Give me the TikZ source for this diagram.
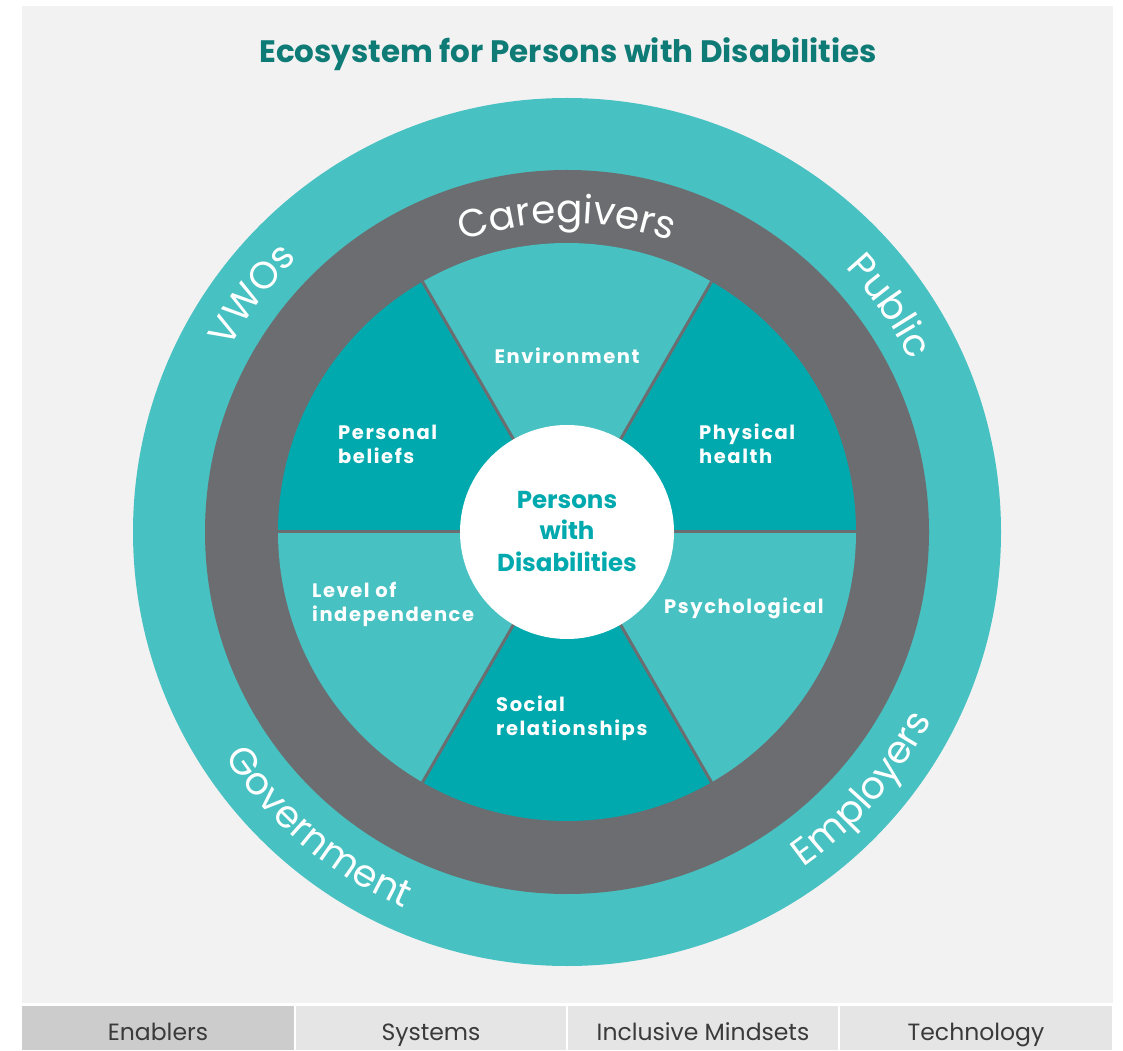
\documentclass[tikz,border=0pt]{standalone}
\usepackage{fontspec}
\setmainfont{Poppins}
\newfontfamily\labfont[LetterSpace=8]{Poppins}
\usetikzlibrary{decorations.text}
\definecolor{bgc}{HTML}{F2F2F2}
\definecolor{lteal}{HTML}{47C1C1}
\definecolor{dteal}{HTML}{00A9AD}
\definecolor{ringgray}{HTML}{6C6D70}
\definecolor{titlec}{HTML}{0E7B76}
\definecolor{cellA}{HTML}{CCCCCC}
\definecolor{cellB}{HTML}{E5E5E5}
\definecolor{celltext}{HTML}{3A3A3A}
\tikzset{
  seclabel/.style={text=white, font=\labfont\bfseries\fontsize{19.5}{24}\selectfont, align=left, inner sep=0pt},
  celltxt/.style={inner sep=0pt, text=celltext, font=\fontsize{23.5}{26}\selectfont, anchor=base},
  ringtext/.style={decorate, decoration={text along path, text align=center, text color=white, text={#1}}}
}
\begin{document}
\begin{tikzpicture}[x=1pt,y=1pt]
\useasboundingbox (0,0) rectangle (1123,1050);
\fill[white] (0,0) rectangle (1123,1050);
\fill[bgc] (22,47) rectangle (1113,1044);
\coordinate (C) at (567,518);
% rings
\fill[lteal] (C) circle[radius=434];
\fill[ringgray] (C) circle[radius=362];
% sectors
\foreach \a/\col in {0/dteal,60/lteal,120/dteal,180/lteal,240/dteal,300/lteal}{
  \fill[\col] (C) -- ++(\a:289) arc[start angle=\a, end angle=\a+60, radius=289] -- cycle;
}
\foreach \a in {0,60,...,300}{
  \draw[ringgray, line width=3pt] (C) -- ++(\a:289);
}
\fill[white] (C) circle[radius=107];
% title
\node[text=titlec, font=\bfseries\fontsize{31}{33}\selectfont] (title) at (568,996) {Ecosystem for Persons with Disabilities};
% centre
\node[text=dteal, font=\bfseries\fontsize{24.5}{31.5}\selectfont, align=center] (pwd) at (567,519) {Persons\\with\\Disabilities};
% sector labels
\node[seclabel, anchor=center] (env) at (567,694) {Environment};
\node[seclabel, anchor=west] (pb) at (338,606) {Personal\\beliefs};
\node[seclabel, anchor=west] (ph) at (699,606) {Physical\\health};
\node[seclabel, anchor=west] (li) at (312,446) {Level of\\independence};
\node[seclabel, anchor=west] (ps) at (664,442) {Psychological};
\node[seclabel, anchor=west] (sr) at (496,332) {Social\\relationships};
% ring texts
\path[ringtext={|\fontsize{39}{40}\selectfont|Caregivers}] (C) ++(140:309) arc[start angle=140, end angle=40, radius=309];
\path[ringtext={|\fontsize{38}{40}\selectfont|VWOs}] (C) ++(183:384) arc[start angle=183, end angle=103, radius=384];
\path[ringtext={|\fontsize{38}{40}\selectfont|Public}] (C) ++(75:384) arc[start angle=75, end angle=-5, radius=384];
\path[ringtext={|\fontsize{38}{40}\selectfont|Government}] (C) ++(185:410) arc[start angle=185, end angle=275, radius=410];
\path[ringtext={|\fontsize{38}{40}\selectfont|Employers}] (C) ++(274:410) arc[start angle=274, end angle=364, radius=410];
% bottom bar
\fill[white] (0,0) rectangle (1123,47);
\fill[cellA] (22,0) rectangle (294,44);
\fill[cellB] (296,0) rectangle (566,44);
\fill[cellB] (568,0) rectangle (838,44);
\fill[cellB] (840,0) rectangle (1112,44);
\node[celltxt] (c1) at (158,10) {Enablers};
\node[celltxt] (c2) at (431,10) {Systems};
\node[celltxt] (c3) at (703,10) {Inclusive Mindsets};
\node[celltxt] (c4) at (976,10) {Technology};
\end{tikzpicture}
\end{document}
